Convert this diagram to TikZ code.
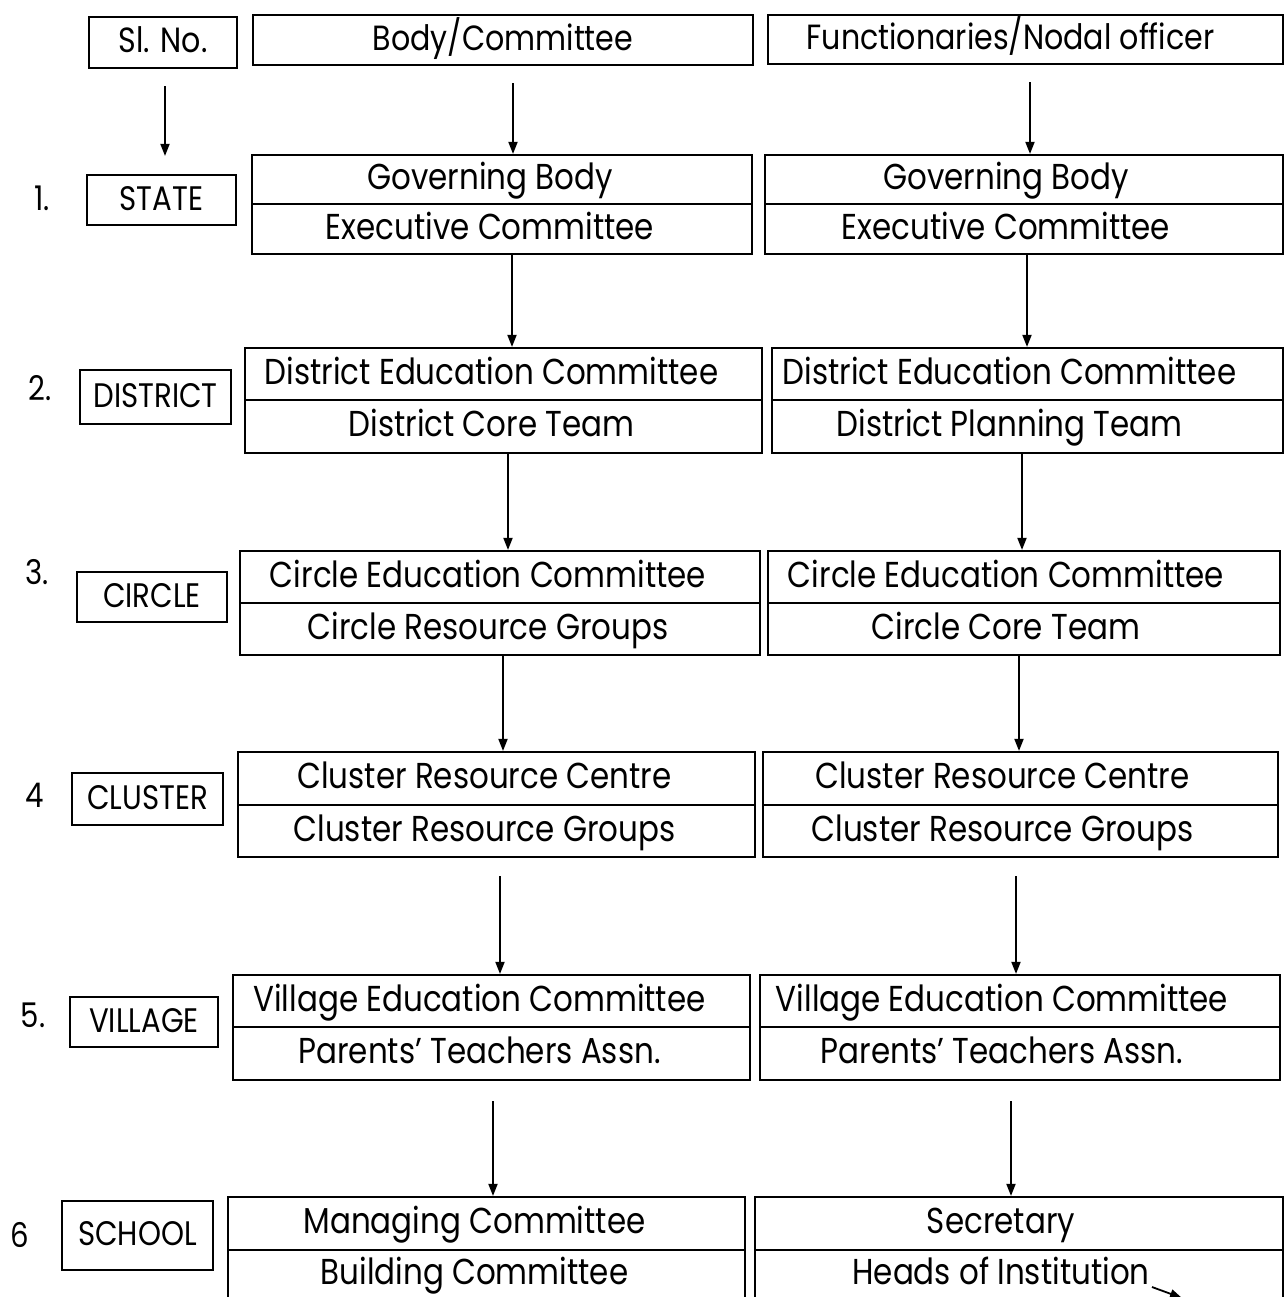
\documentclass[tikz,border=0pt]{standalone}
\usepackage{fontspec}
\setmainfont{Poppins}[FakeStretch=0.86]
\usetikzlibrary{arrows.meta}
\begin{document}
\begin{tikzpicture}[x=0.5pt,y=-0.5pt,
  box/.style={draw,line width=1.1pt,inner sep=0pt,text height=12pt,text depth=2pt,font=\fontsize{18}{20}\selectfont},
  lt/.style={box,execute at begin node={\hspace*{-12pt}}},
  rt/.style={box,execute at begin node={\hspace*{-18pt}}},
  hdr/.style={box,font=\fontsize{17.5}{20}\selectfont},
  lbl/.style={box,font=\fontsize{17}{19}\selectfont},
  num/.style={font=\fontsize{17}{19}\selectfont},
  arr/.style={line width=0.9pt,-{Triangle[length=6pt,width=4.5pt]}}]
\useasboundingbox (0,0) rectangle (1285,1297);
\clip (0,0) rectangle (1285,1297);
% header
\node[hdr,minimum width=74pt,minimum height=25.5pt] (hs) at (163,42.5) {Sl. No.};
\node[hdr,minimum width=250pt,minimum height=25pt] (hb) at (503,40) {Body/Committee};
\node[hdr,minimum width=257.5pt,minimum height=24.5pt,execute at begin node={\hspace*{-15pt}}] (hf) at (1025.5,39.5) {Functionaries/Nodal officer};
% row numbers
\node[num] (n1) at (42,198) {1.};
\node[num] (n2) at (40,388) {2.};
\node[num] (n3) at (37,572) {3.};
\node[num] (n4) at (35,795) {4};
\node[num] (n5) at (33,1015) {5.};
\node[num] (n6) at (20,1235) {6};
% row labels
\node[lbl,minimum width=74.5pt,minimum height=25pt] (s1) at (161.5,200) {STATE};
\node[lbl,minimum width=75.5pt,minimum height=27pt] (s2) at (155.5,397) {DISTRICT};
\node[lbl,minimum width=75pt,minimum height=25pt] (s3) at (152,597) {CIRCLE};
\node[lbl,minimum width=75.5pt,minimum height=26pt] (s4) at (147.5,799) {CLUSTER};
\node[lbl,minimum width=74pt,minimum height=25pt] (s5) at (144,1022) {VILLAGE};
\node[lbl,minimum width=75.5pt,minimum height=34.5pt] (s6) at (137.5,1235.5) {SCHOOL};
% row 1
\node[lt,minimum width=250pt,minimum height=24.5pt] (a1) at (502,179.5) {Governing Body};
\node[lt,minimum width=250pt,minimum height=25pt] (b1) at (502,229) {Executive Committee};
\node[rt,minimum width=259pt,minimum height=24.5pt] (c1) at (1024,179.5) {Governing Body};
\node[rt,minimum width=259pt,minimum height=25pt] (d1) at (1024,229) {Executive Committee};
% row 2
\node[lt,minimum width=258.5pt,minimum height=26pt] (a2) at (503.5,374) {District Education Committee};
\node[lt,minimum width=258.5pt,minimum height=26.5pt] (b2) at (503.5,426.5) {District Core Team};
\node[rt,minimum width=255.5pt,minimum height=26pt] (c2) at (1027.5,374) {District Education Committee};
\node[rt,minimum width=255.5pt,minimum height=26.5pt] (d2) at (1027.5,426.5) {District Planning Team};
% row 3
\node[lt,minimum width=260pt,minimum height=26pt] (a3) at (500,577) {Circle Education Committee};
\node[lt,minimum width=260pt,minimum height=26pt] (b3) at (500,629) {Circle Resource Groups};
\node[rt,minimum width=256pt,minimum height=26pt] (c3) at (1024,577) {Circle Education Committee};
\node[rt,minimum width=256pt,minimum height=26pt] (d3) at (1024,629) {Circle Core Team};
% row 4
\node[lt,minimum width=258.5pt,minimum height=26.5pt] (a4) at (496.5,778.5) {Cluster Resource Centre};
\node[lt,minimum width=258.5pt,minimum height=26pt] (b4) at (496.5,831) {Cluster Resource Groups};
\node[rt,minimum width=257.5pt,minimum height=26.5pt] (c4) at (1020.5,778.5) {Cluster Resource Centre};
\node[rt,minimum width=257.5pt,minimum height=26pt] (d4) at (1020.5,831) {Cluster Resource Groups};
% row 5
\node[lt,minimum width=258.5pt,minimum height=26pt] (a5) at (491.5,1001) {Village Education Committee};
\node[lt,minimum width=258.5pt,minimum height=26.5pt] (b5) at (491.5,1053.5) {Parents' Teachers Assn.};
\node[rt,minimum width=260pt,minimum height=26pt] (c5) at (1020,1001) {Village Education Committee};
\node[rt,minimum width=260pt,minimum height=26.5pt] (d5) at (1020,1053.5) {Parents' Teachers Assn.};
% row 6
\node[lt,minimum width=258.5pt,minimum height=26.5pt] (a6) at (486.5,1223.5) {Managing Committee};
\node[lt,minimum width=258.5pt,minimum height=24.5pt] (b6) at (486.5,1274.5) {Building Committee};
\node[rt,minimum width=264pt,minimum height=26.5pt] (c6) at (1019,1223.5) {Secretary};
\node[rt,minimum width=264pt,minimum height=24.5pt] (d6) at (1019,1274.5) {Heads of Institution};
% arrows
\draw[arr,shorten <=8.5pt,shorten >=9pt] (hs.south -| 165,0) -- (s1.north -| 165,0);
\draw[arr,shorten <=8.5pt] (hb.south -| 513,0) -- (a1.north -| 513,0);
\draw[arr,shorten <=8.5pt] (hf.south -| 1030,0) -- (c1.north -| 1030,0);
\draw[arr] (b1.south -| 512,0) -- (a2.north -| 512,0);
\draw[arr] (d1.south -| 1027,0) -- (c2.north -| 1027,0);
\draw[arr] (b2.south -| 508,0) -- (a3.north -| 508,0);
\draw[arr] (d2.south -| 1022,0) -- (c3.north -| 1022,0);
\draw[arr] (b3.south -| 503,0) -- (a4.north -| 503,0);
\draw[arr] (d3.south -| 1019,0) -- (c4.north -| 1019,0);
\draw[arr,shorten <=9pt] (b4.south -| 500,0) -- (a5.north -| 500,0);
\draw[arr,shorten <=9pt] (d4.south -| 1016,0) -- (c5.north -| 1016,0);
\draw[arr,shorten <=10pt] (b5.south -| 493,0) -- (a6.north -| 493,0);
\draw[arr,shorten <=10pt] (d5.south -| 1011,0) -- (c6.north -| 1011,0);
\coordinate (st) at (1152,1287);
\coordinate (se) at (1182,1298);
\draw[arr] (st) -- (se);
\end{tikzpicture}
\end{document}
